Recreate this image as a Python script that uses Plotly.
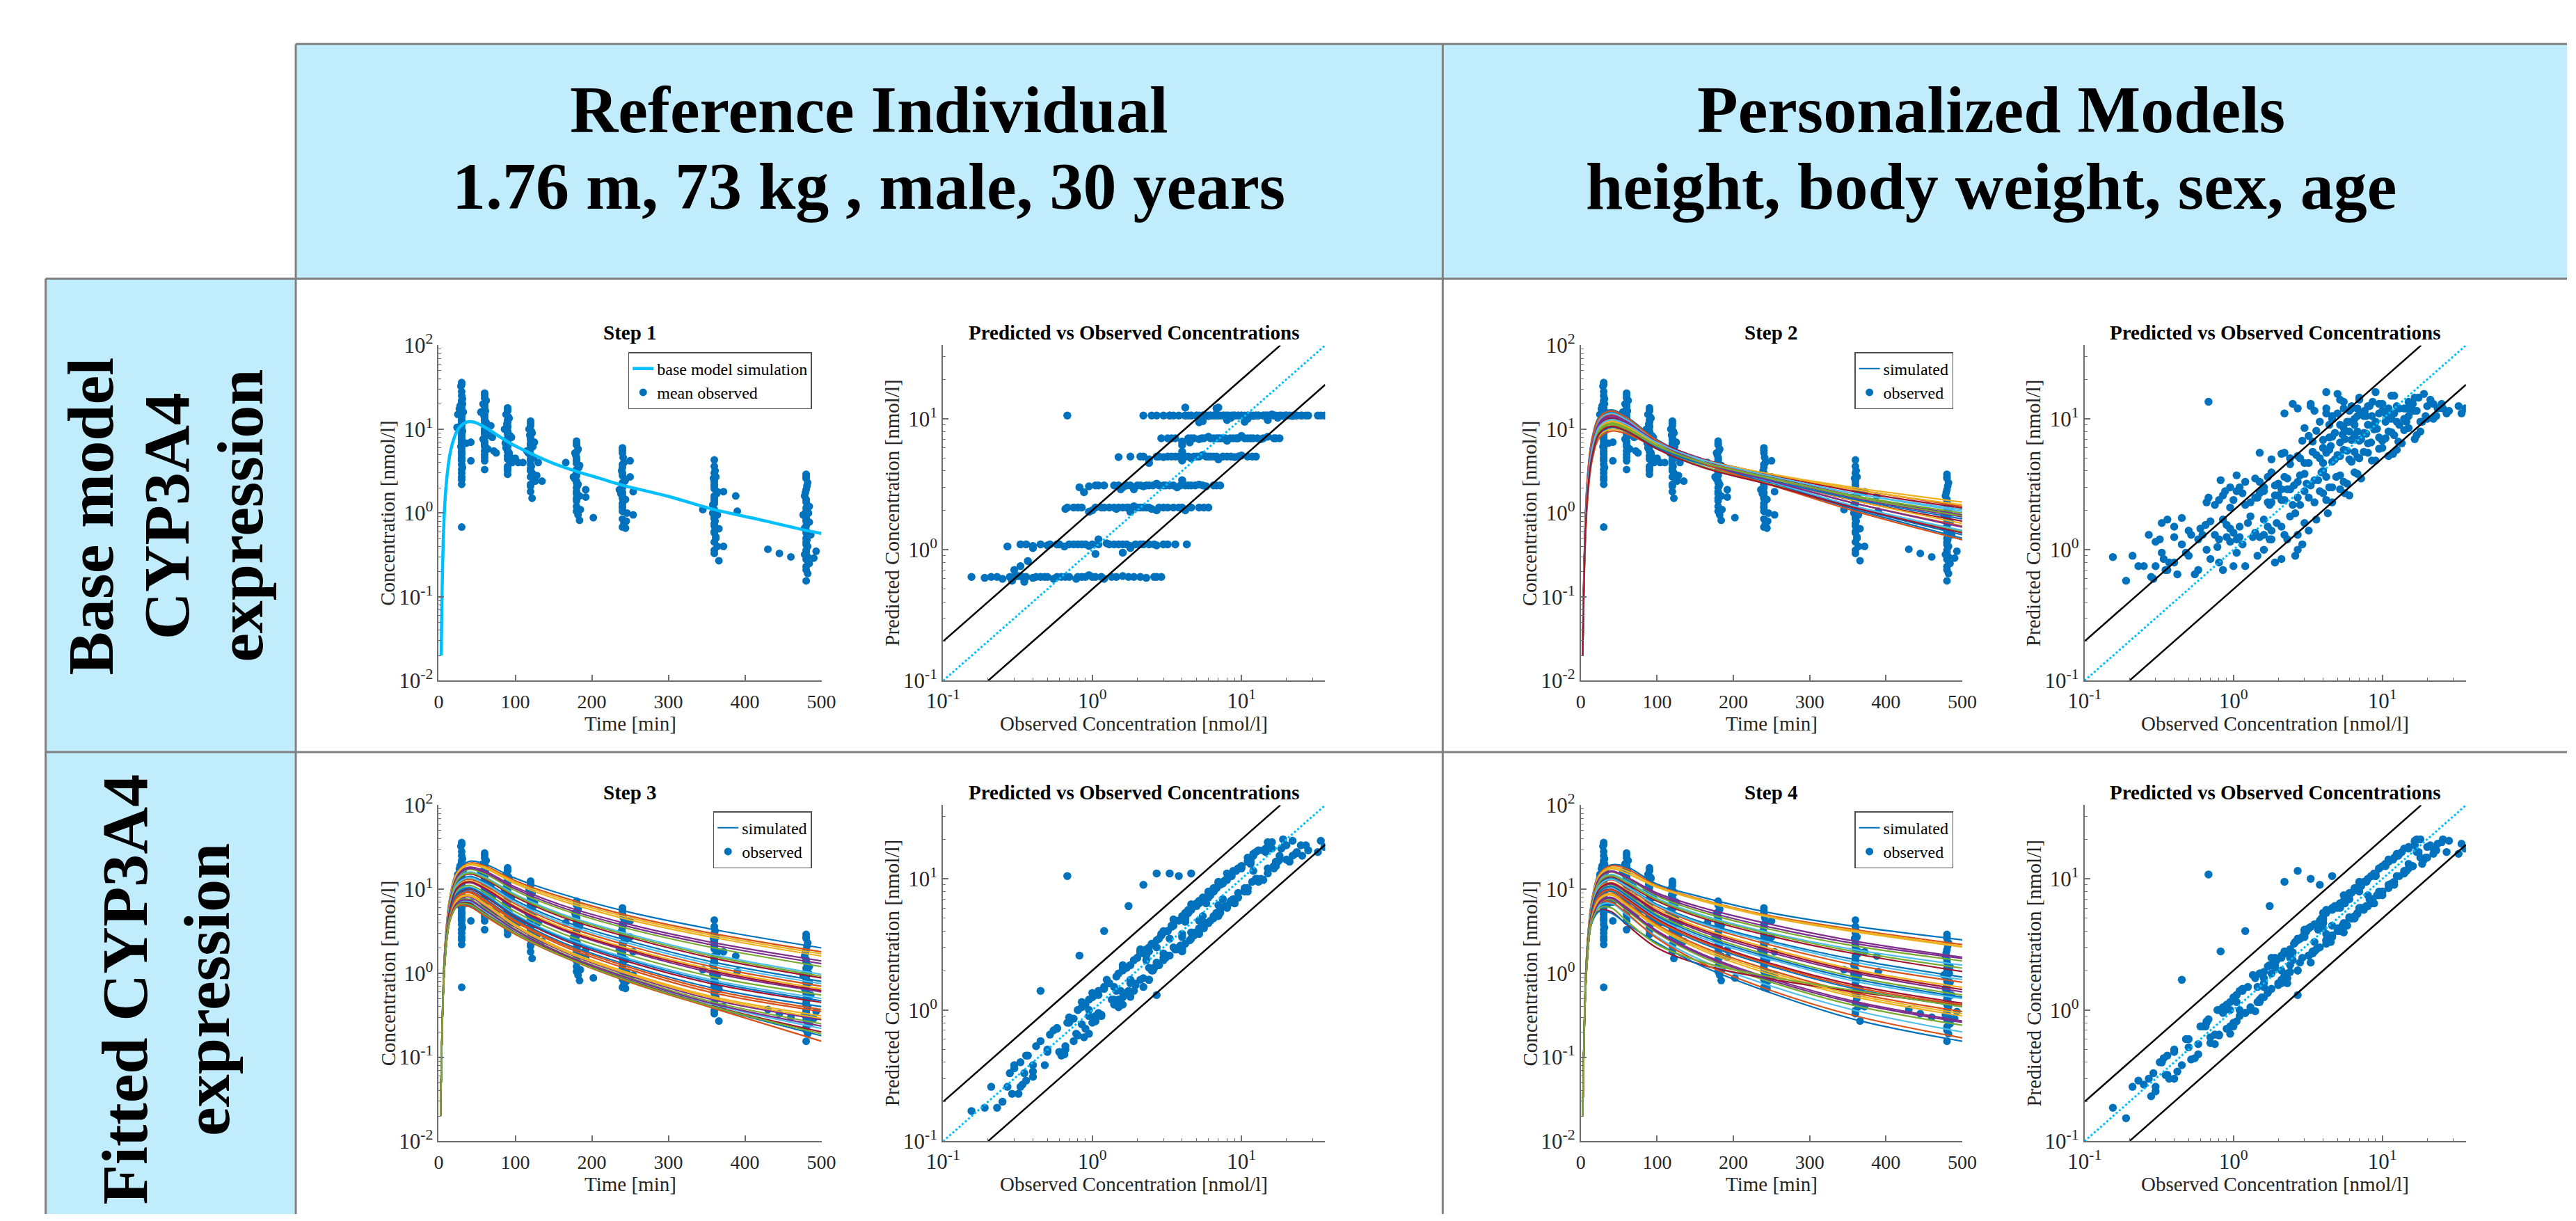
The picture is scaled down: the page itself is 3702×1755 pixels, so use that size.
import math
import plotly.graph_objects as go

W, H = 3702, 1755
SERIF = "Liberation Serif"

# ======================= DATA =======================
header_left = ["Reference Individual", "1.76 m, 73 kg , male, 30 years"]
header_right = ["Personalized Models", "height, body weight, sex, age"]
row1_label = ["Base model", "CYP3A4", "expression"]
row2_label = ["Fitted CYP3A4", "expression"]
step_titles = ["Step 1", "Step 2", "Step 3", "Step 4"]

# ---- observed concentrations, batch A (grouped by nominal sampling time 30..480 min)
obs_time_a = [
    30, 30, 29, 30, 31, 30, 28, 30, 32, 30, 25, 27, 30, 30, 30, 30, 24, 30, 30, 30, 30, 30, 30, 30, 30, 30, 30, 30, 30, 30, 30, 30, 30, 30, 42, 42, 36,
    60, 60, 62, 58, 60, 60, 55, 60, 60, 60, 62, 60, 68, 60, 60, 65, 60, 70, 60, 60, 62, 60, 72, 60, 75, 60, 60,
    90, 90, 88, 92, 90, 90, 86, 90, 90, 95, 90, 90, 90, 88, 90, 92, 90, 90, 96, 90, 90, 90, 100, 104,
    120, 120, 118, 122, 120, 125, 120, 120, 115, 120, 124, 120, 130, 120, 110, 120, 122, 120, 126, 120, 135, 120, 122,
    180, 180, 182, 178, 180, 166, 180, 184, 180, 180, 176, 180, 182, 180, 180, 184, 180, 192, 192, 180, 180, 182, 184, 202,
    240, 240, 250, 242, 240, 240, 250, 244, 240, 240, 236, 240, 254, 240, 244, 240, 240, 246, 254, 240, 242, 240, 244,
    360, 360, 362, 360, 360, 364, 372, 360, 360, 358, 345, 360, 388, 390, 364, 360, 360, 366, 360, 362, 360, 364, 372, 360, 366,
    480, 480, 482, 480, 478, 480, 484, 480, 476, 480, 484, 480, 480, 486, 480, 480, 482, 480, 478, 480, 484, 480, 482, 480, 430, 445, 460, 490, 493,
]
obs_conc_a = [
    36, 34, 32.5, 25, 23, 21, 19, 18, 16, 15, 15, 17.5, 14, 13, 12, 11, 10.5, 10, 9, 8.2, 7.5, 7, 6.5, 6, 5.5, 5, 4.6, 4.2, 3.8, 3.3, 3, 2.7, 2.2, 0.68, 7, 4.2, 6.8,
    27, 25.5, 22, 20, 18.5, 17, 16, 15, 14, 13, 12, 11, 11, 10, 9, 8.5, 8, 8, 7.2, 6.5, 6, 5.5, 5.5, 5, 5.2, 4.6, 3.3,
    18, 16.5, 15, 13.5, 12, 11, 10, 9.5, 8.8, 8, 7.5, 7, 6.5, 6, 5.6, 5.2, 4.8, 4.4, 4, 3.6, 3.2, 2.9, 4.5, 4,
    12.5, 11, 10, 9, 8, 7, 6.5, 6, 5.5, 5, 4.6, 4.2, 4, 3.8, 4, 3.4, 3, 2.7, 2.4, 2.1, 2.4, 1.8, 1.5,
    7.2, 6.5, 5.8, 5.2, 4.6, 4.0, 4.2, 3.7, 3.3, 3.0, 2.7, 2.4, 2.2, 2.0, 1.8, 1.6, 1.4, 1.9, 1.55, 1.2, 1.05, 0.95, 0.82, 0.88,
    6.0, 5.2, 4.2, 4.0, 3.5, 3.0, 2.7, 2.5, 2.3, 2.1, 1.9, 1.75, 1.8, 1.6, 1.45, 1.3, 1.15, 1.0, 0.95, 0.85, 0.75, 0.68, 0.66,
    4.3, 3.0, 2.7, 2.4, 2.1, 1.8, 1.8, 1.6, 1.4, 1.25, 1.1, 1.1, 1.6, 1.05, 0.95, 0.85, 0.75, 0.65, 0.58, 0.5, 0.45, 0.4, 0.4, 0.33, 0.27,
    2.9, 2.6, 2.3, 1.9, 1.6, 1.35, 1.2, 1.05, 0.95, 0.85, 0.78, 0.7, 0.62, 0.55, 0.5, 0.45, 0.4, 0.36, 0.32, 0.28, 0.25, 0.21, 0.19, 0.155, 0.37, 0.33, 0.3, 0.29, 0.35,
]
pred1_a = [
    10.6, 10.6, 10.6, 10.6, 10.6, 10.6, 10.5, 10.6, 10.7, 10.6, 9.8, 10.2, 10.6, 10.6, 10.6, 10.6, 9.5, 10.6, 10.6, 10.6, 10.6, 10.6, 10.6, 10.6, 10.6, 10.6, 10.6, 10.6, 10.6, 10.6, 10.6, 10.6, 10.6, 10.6, 12.2, 12.2, 12.0,
    10.6, 10.6, 10.5, 10.6, 10.6, 10.6, 10.8, 10.6, 10.6, 10.6, 10.5, 10.6, 10.0, 10.6, 10.6, 10.2, 10.6, 9.8, 10.6, 10.6, 10.5, 10.6, 9.6, 10.6, 9.4, 10.6, 10.6,
    7.1, 7.1, 7.3, 7.0, 7.1, 7.1, 7.4, 7.1, 7.1, 6.8, 7.1, 7.1, 7.1, 7.3, 7.1, 7.0, 7.1, 7.1, 6.7, 7.1, 7.1, 7.1, 6.6, 6.3,
    5.15, 5.15, 5.25, 5.1, 5.15, 4.9, 5.15, 5.15, 5.3, 5.15, 5.0, 5.15, 4.8, 5.15, 5.6, 5.15, 5.1, 5.15, 4.9, 5.15, 4.6, 5.15, 5.1,
    3.1, 3.1, 3.05, 3.15, 3.1, 3.4, 3.1, 3.0, 3.1, 3.1, 3.2, 3.1, 3.05, 3.1, 3.1, 3.0, 3.1, 2.9, 2.9, 3.1, 3.1, 3.05, 3.0, 2.75,
    2.1, 2.1, 2.0, 2.1, 2.1, 2.1, 2.0, 2.05, 2.1, 2.1, 2.15, 2.1, 1.95, 2.1, 2.05, 2.1, 2.1, 2.0, 1.95, 2.1, 2.1, 2.1, 2.05,
    1.1, 1.1, 1.08, 1.1, 1.1, 1.07, 1.03, 1.1, 1.1, 1.12, 1.2, 1.1, 0.95, 0.93, 1.07, 1.1, 1.1, 1.06, 1.1, 1.08, 1.1, 1.07, 1.03, 1.1, 1.06,
    0.62, 0.62, 0.61, 0.62, 0.63, 0.62, 0.6, 0.62, 0.64, 0.62, 0.6, 0.62, 0.62, 0.6, 0.62, 0.62, 0.61, 0.62, 0.63, 0.62, 0.6, 0.62, 0.61, 0.62, 0.82, 0.75, 0.7, 0.58, 0.57,
]
pred2_a = [
    12.0, 11.0, 12.5, 13.0, 10.5, 14.0, 15.5, 9.5, 11.5, 13.5, 12.0, 14.5, 10.0, 12.0, 15.0, 11.0, 9.5, 13.0, 16.0, 12.5, 10.5, 14.0, 9.0, 11.5, 13.5, 15.5, 10.0, 12.0, 9.5, 13.0, 8.5, 12.0, 11.0, 13.5, 14.5, 16.0, 12.0,
    11.0, 12.0, 10.0, 12.5, 9.5, 11.5, 13.0, 10.5, 12.0, 9.0, 11.0, 10.0, 12.0, 11.5, 9.5, 10.5, 12.5, 9.0, 11.0, 10.0, 9.5, 12.0, 8.5, 11.0, 9.0, 10.5, 12.5,
    8.0, 7.0, 8.5, 6.5, 7.5, 8.0, 6.8, 7.2, 8.3, 6.5, 7.8, 6.8, 7.5, 8.0, 7.0, 6.6, 7.8, 7.2, 6.9, 8.1, 7.4, 6.8, 6.2, 6.0,
    5.8, 5.2, 6.0, 4.8, 5.5, 5.0, 5.6, 4.9, 5.8, 5.3, 4.7, 5.5, 4.6, 5.0, 6.0, 5.6, 4.6, 5.2, 5.0, 5.4, 4.5, 4.9, 5.5,
    3.5, 3.9, 3.2, 3.7, 3.0, 4.0, 3.6, 3.4, 3.1, 3.8, 3.3, 2.9, 3.6, 3.2, 3.9, 3.0, 3.5, 3.1, 2.8, 3.3, 3.7, 3.0, 3.4, 2.8,
    2.6, 2.9, 2.4, 2.7, 2.3, 2.8, 2.5, 2.2, 2.9, 2.4, 2.6, 2.2, 2.3, 2.8, 2.5, 2.3, 2.7, 2.4, 2.1, 2.6, 2.2, 2.5, 2.3,
    1.9, 1.6, 1.3, 1.8, 1.5, 1.2, 1.4, 1.7, 1.35, 1.6, 1.5, 1.25, 1.3, 1.2, 1.45, 1.7, 1.3, 1.55, 1.2, 1.4, 1.75, 1.25, 1.5, 1.6, 1.3,
    1.1, 0.9, 1.2, 0.8, 1.0, 1.25, 0.75, 0.95, 1.15, 0.7, 1.05, 0.85, 1.3, 0.65, 0.9, 1.1, 0.8, 0.7, 1.2, 0.62, 0.75, 0.9, 0.58, 0.88, 0.8, 0.95, 0.75, 0.6, 0.7,
]
pred3_a = [
    17.5, 19.5, 16.0, 18.0, 15.5, 13.5, 20.0, 14.0, 17.0, 12.0, 19.0, 13.5, 9.8, 16.5, 11.5, 14.5, 8.0, 12.5, 6.8, 10.5, 7.0, 9.2, 5.0, 8.0, 5.2, 6.5, 11.0, 5.5, 10.5, 11.0, 3.9, 11.0, 9.0, 10.5, 9.5, 3.2, 8.5,
    18.0, 15.0, 19.5, 14.0, 17.0, 12.5, 19.0, 11.0, 16.5, 9.5, 15.0, 8.0, 13.5, 12.0, 7.0, 10.5, 6.2, 9.8, 5.5, 8.0, 4.6, 7.2, 4.3, 6.2, 4.0, 5.8, 2.6,
    15.0, 12.5, 17.0, 10.0, 15.5, 8.5, 12.5, 7.2, 11.5, 6.0, 9.5, 5.2, 8.5, 7.2, 4.2, 6.8, 3.7, 5.5, 3.0, 4.8, 2.6, 3.7, 3.4, 5.2,
    16.0, 8.5, 12.5, 6.5, 11.0, 6.3, 8.0, 4.6, 6.8, 6.5, 3.9, 5.0, 2.8, 4.8, 3.8, 4.4, 2.5, 3.4, 1.7, 2.8, 2.1, 2.2, 1.05,
    9.0, 5.2, 6.5, 3.8, 6.4, 3.6, 5.0, 2.9, 3.5, 4.0, 2.3, 2.8, 1.5, 2.5, 1.7, 2.1, 1.2, 2.4, 1.4, 4.0, 0.9, 1.2, 2.6, 0.62,
    7.8, 4.2, 4.7, 2.9, 4.9, 2.7, 1.3, 2.0, 2.4, 2.8, 1.6, 6.2, 1.26, 2.0, 1.4, 1.6, 0.9, 1.35, 0.66, 1.05, 0.58, 0.8, 0.5,
    5.6, 2.4, 3.0, 1.7, 2.9, 1.6, 2.2, 1.25, 1.5, 1.7, 0.95, 1.3, 1.1, 1.3, 0.9, 0.78, 0.86, 0.46, 0.73, 0.5, 0.58, 0.38, 0.34, 0.4, 0.26,
    3.8, 2.1, 2.6, 1.4, 2.2, 1.2, 1.45, 0.82, 1.0, 1.15, 0.66, 0.8, 0.45, 0.7, 0.48, 1.4, 0.31, 0.45, 0.23, 0.33, 0.2, 0.26, 0.18, 0.17, 0.45, 0.26, 0.36, 0.23, 0.33,
]
pred4_a = [
    17.0, 18.5, 15.5, 19.0, 16.5, 18.0, 14.0, 20.0, 12.5, 17.5, 13.0, 16.0, 17.0, 10.5, 14.5, 9.0, 13.0, 8.0, 11.0, 7.0, 9.5, 6.0, 8.5, 5.0, 7.5, 4.2, 10.5, 5.8, 9.0, 10.0, 4.0, 11.5, 9.5, 10.8, 8.0, 5.5, 5.5,
    16.0, 20.0, 15.5, 17.5, 13.0, 20.0, 12.5, 17.0, 11.0, 15.5, 9.0, 13.5, 8.5, 12.5, 10.5, 6.5, 10.0, 6.2, 8.8, 5.0, 7.5, 4.4, 6.8, 4.0, 6.5, 3.6, 4.3,
    14.5, 19.5, 12.0, 16.0, 9.5, 14.0, 8.0, 12.0, 6.5, 10.0, 5.8, 9.0, 5.0, 7.8, 6.5, 4.0, 6.2, 3.5, 5.0, 2.9, 4.2, 3.6, 3.3, 4.6,
    10.5, 14.0, 7.5, 10.5, 7.5, 9.5, 5.2, 7.0, 3.9, 6.0, 6.0, 3.8, 4.9, 3.0, 4.2, 2.7, 3.8, 2.0, 2.9, 1.6, 2.5, 2.2, 1.15,
    6.0, 8.2, 4.4, 6.0, 4.4, 5.5, 3.4, 4.1, 2.3, 3.6, 3.5, 2.2, 2.7, 1.55, 1.9, 1.6, 1.8, 2.1, 1.25, 4.0, 1.3, 0.75, 2.8, 1.0,
    5.1, 6.5, 3.2, 4.6, 3.3, 4.1, 1.3, 2.75, 1.6, 2.5, 2.5, 6.2, 2.2, 1.25, 1.5, 1.0, 1.4, 0.75, 1.15, 0.95, 0.65, 0.85, 0.8,
    3.7, 3.8, 2.0, 2.8, 2.0, 2.5, 1.45, 1.75, 0.98, 1.5, 1.4, 1.0, 1.95, 0.82, 1.0, 1.05, 0.55, 0.75, 0.55, 0.6, 0.38, 0.48, 0.3, 0.4, 0.3,
    2.5, 3.3, 1.75, 2.2, 1.5, 1.85, 0.95, 1.15, 0.66, 1.0, 1.0, 0.62, 0.75, 0.43, 0.52, 1.7, 0.5, 0.32, 0.4, 0.22, 0.27, 0.26, 0.15, 0.18, 0.3, 0.4, 0.26, 0.33, 0.32,
]

# ---- observed concentrations, batch B (more samples at the same nominal times)
obs_time_b = [
    30, 30, 31, 30, 29, 30, 30, 31, 30, 30, 29, 30, 30, 31, 30,
    60, 60, 61, 59, 60, 60, 63, 60, 60, 58, 60, 60, 64, 60,
    90, 91, 90, 89, 90, 90, 93, 90, 90, 87, 90, 90, 94, 90,
    120, 121, 119, 120, 120, 123, 120, 117, 120, 120, 121, 120, 128, 120,
    180, 181, 179, 180, 180, 183, 180, 180, 178, 180, 181, 180, 180, 185,
    240, 241, 240, 239, 240, 243, 240, 240, 238, 240, 241, 240, 240, 245,
    360, 361, 359, 360, 360, 363, 360, 360, 358, 360, 361, 360, 360, 362, 360,
    480, 481, 479, 480, 480, 483, 480, 480, 478, 480, 481, 480, 480, 482, 480,
]
obs_conc_b = [
    28, 22, 20, 16.5, 14.5, 12.5, 11.5, 9.5, 8.6, 7.8, 6.2, 5.2, 4.4, 3.5, 2.5,
    23.5, 19.5, 16.5, 14.5, 12.5, 11.5, 10.5, 9.5, 8.8, 7.6, 6.8, 6.2, 5.8, 4.2,
    17, 14, 12.8, 11.5, 10.5, 9.2, 8.4, 7.8, 7.2, 6.8, 6.2, 5.4, 4.6, 3.4,
    11.8, 9.5, 8.5, 7.5, 6.8, 6.2, 5.8, 5.2, 4.8, 4.4, 3.6, 3.2, 2.8, 2.2,
    6.8, 5.5, 4.9, 4.4, 3.9, 3.5, 3.1, 2.8, 2.55, 2.3, 2.1, 1.7, 1.5, 1.1,
    5.6, 4.6, 3.8, 3.2, 2.8, 2.4, 2.2, 2.0, 1.7, 1.5, 1.4, 1.2, 1.05, 0.8,
    3.6, 3.2, 2.6, 2.2, 1.95, 1.7, 1.5, 1.3, 1.0, 0.9, 0.8, 0.7, 0.6, 0.52, 0.36,
    2.7, 2.1, 1.75, 1.45, 1.15, 1.0, 0.9, 0.8, 0.66, 0.58, 0.48, 0.42, 0.34, 0.3, 0.23,
]
pred1_b = [10.6] * 15 + [10.6] * 14 + [7.1] * 14 + [5.15] * 14 + [3.1] * 14 + [2.1] * 14 + [1.1] * 15 + [0.62] * 15
pred2_b = [
    11.5, 13.0, 10.0, 14.5, 12.0, 9.5, 15.0, 11.0, 13.5, 10.5, 12.5, 14.0, 9.0, 11.5, 13.0,
    12.0, 10.5, 11.5, 9.5, 12.5, 10.0, 11.0, 13.0, 9.0, 11.5, 10.5, 12.0, 9.5, 11.0,
    7.5, 8.2, 6.7, 7.9, 7.1, 8.4, 6.6, 7.7, 7.0, 8.0, 6.9, 7.6, 7.3, 6.7,
    5.4, 5.9, 4.8, 5.6, 5.1, 4.7, 5.7, 5.2, 4.9, 5.8, 5.3, 4.6, 5.0, 5.5,
    3.8, 3.3, 3.6, 3.0, 3.9, 3.4, 3.2, 3.7, 3.1, 3.5, 2.9, 3.6, 3.3, 3.0,
    2.7, 2.3, 2.8, 2.5, 2.2, 2.9, 2.4, 2.6, 2.3, 2.7, 2.5, 2.2, 2.8, 2.4,
    1.7, 1.4, 1.9, 1.3, 1.6, 1.5, 1.25, 1.8, 1.35, 1.55, 1.2, 1.65, 1.45, 1.3, 1.7,
    1.0, 0.85, 1.2, 0.9, 1.1, 0.75, 1.25, 0.8, 1.0, 0.7, 0.95, 0.65, 0.85, 1.15, 0.75,
]
pred3_b = [
    16.5, 15.0, 18.0, 12.0, 16.0, 10.0, 13.5, 7.8, 10.5, 6.2, 7.5, 4.8, 5.8, 3.0, 3.2,
    16.0, 18.0, 12.5, 17.0, 10.0, 14.0, 8.5, 12.0, 7.0, 9.5, 5.5, 7.8, 4.6, 5.3,
    13.5, 16.5, 10.0, 13.0, 8.2, 11.5, 6.6, 9.8, 5.8, 8.5, 4.8, 6.8, 3.5, 4.3,
    9.5, 12.0, 6.8, 9.2, 5.4, 7.8, 4.6, 6.5, 3.8, 5.5, 2.9, 4.0, 2.2, 2.8,
    5.5, 7.0, 3.9, 5.5, 3.1, 4.4, 2.5, 3.5, 2.0, 2.9, 1.7, 2.1, 1.2, 1.4,
    4.5, 5.8, 3.0, 4.0, 2.2, 3.0, 1.75, 2.5, 1.35, 1.9, 1.1, 1.5, 0.85, 1.0,
    2.9, 4.0, 2.1, 2.75, 1.55, 2.1, 1.2, 1.6, 0.8, 1.1, 0.64, 0.88, 0.48, 0.65, 0.29,
    2.2, 2.7, 1.4, 1.8, 0.92, 1.25, 0.72, 1.0, 0.53, 0.72, 0.38, 0.53, 0.27, 0.38, 0.18,
]
pred4_b = [
    19.5, 17.0, 14.5, 18.0, 11.5, 15.0, 9.0, 12.0, 7.0, 9.5, 5.0, 6.5, 3.6, 4.5, 2.4,
    18.5, 14.5, 19.0, 11.5, 15.5, 9.0, 13.0, 7.5, 11.0, 6.0, 8.5, 5.0, 7.2, 3.4,
    16.0, 11.5, 15.0, 9.2, 12.5, 7.5, 10.5, 6.2, 9.0, 5.4, 7.8, 4.4, 5.8, 2.8,
    14.0, 8.0, 10.5, 6.0, 8.5, 5.0, 7.2, 4.2, 6.0, 3.5, 4.5, 2.6, 3.5, 1.8,
    8.5, 4.6, 6.2, 3.5, 5.0, 2.8, 4.0, 2.3, 3.2, 1.9, 2.6, 1.4, 1.9, 0.9,
    7.0, 3.7, 4.8, 2.6, 3.5, 1.95, 2.8, 1.6, 2.15, 1.2, 1.75, 0.95, 1.3, 0.65,
    4.5, 2.6, 3.3, 1.8, 2.4, 1.35, 1.9, 1.05, 1.25, 0.72, 1.0, 0.56, 0.75, 0.42, 0.45,
    3.4, 1.7, 2.2, 1.15, 1.45, 0.8, 1.1, 0.64, 0.82, 0.46, 0.6, 0.34, 0.43, 0.24, 0.29,
]

obs_time = obs_time_a + obs_time_b
obs_conc = obs_conc_a + obs_conc_b
pred_step1 = pred1_a + pred1_b
pred_step2 = pred2_a + pred2_b
pred_step3 = pred3_a + pred3_b
pred_step4 = pred4_a + pred4_b

# Step 1: single base-model simulation
sim1_time = [3.3, 4, 5, 6, 7, 8, 10, 12, 15, 20, 25, 30, 35, 40, 45, 50, 60, 70, 80, 90, 100,
             120, 150, 180, 210, 240, 300, 360, 420, 480, 500]
sim1_conc = [0.02, 0.07, 0.22, 0.5, 0.85, 1.3, 2.3, 3.4, 5.2, 7.8, 9.9, 11.2, 12.0, 12.3, 12.2, 11.8, 10.6,
             9.3, 8.1, 7.1, 6.3, 5.15, 3.9, 3.14, 2.6, 2.15, 1.58, 1.1, 0.83, 0.62, 0.57]

# Steps 2-4: individual simulations, concentration at these times
curve_time = [2.5, 8, 15, 25, 40, 60, 100, 160, 250, 360, 500]
step2_curves = [
    [0.02, 2.2, 8.0, 14.5, 17.0, 14.0, 7.5, 4.0, 2.2, 1.1, 0.5],
    [0.02, 1.9, 7.0, 12.8, 15.0, 12.5, 7.0, 4.0, 2.4, 1.3, 0.7],
    [0.03, 1.2, 4.6, 8.5, 10.0, 9.3, 6.3, 4.2, 2.9, 2.0, 1.35],
    [0.02, 1.6, 6.0, 11.0, 13.0, 11.3, 6.8, 4.2, 2.6, 1.5, 0.9],
    [0.02, 1.4, 5.3, 9.8, 11.5, 10.0, 6.0, 3.6, 2.2, 1.2, 0.6],
    [0.02, 1.5, 5.5, 10.2, 12.0, 10.5, 6.5, 4.1, 2.7, 1.7, 1.1],
    [0.04, 1.8, 6.5, 12.0, 14.0, 12.0, 7.0, 4.2, 2.5, 1.4, 0.8],
    [0.02, 2.0, 7.5, 13.6, 16.0, 13.3, 7.2, 4.0, 2.3, 1.15, 0.55],
    [0.02, 1.1, 4.3, 8.0, 9.5, 8.8, 6.0, 4.0, 2.8, 1.9, 1.2],
    [0.03, 1.55, 5.8, 10.6, 12.5, 10.8, 6.6, 4.0, 2.5, 1.4, 0.75],
    [0.02, 1.85, 6.8, 12.3, 14.5, 12.4, 7.3, 4.4, 2.7, 1.6, 0.95],
    [0.02, 1.35, 5.0, 9.3, 11.0, 9.8, 6.3, 4.0, 2.6, 1.6, 1.0],
    [0.02, 1.95, 7.2, 13.2, 15.5, 13.0, 7.2, 4.1, 2.35, 1.2, 0.62],
    [0.03, 1.7, 6.2, 11.4, 13.5, 11.8, 7.1, 4.4, 2.85, 1.8, 1.15],
    [0.02, 1.3, 4.8, 8.9, 10.5, 9.4, 6.0, 3.8, 2.45, 1.45, 0.85],
    [0.02, 2.1, 7.7, 14.0, 16.5, 13.7, 7.3, 3.9, 2.15, 1.05, 0.48],
    [0.02, 1.5, 5.5, 10.2, 12.0, 10.6, 6.7, 4.3, 2.9, 1.9, 1.25],
    [0.02, 1.75, 6.5, 11.9, 14.0, 11.9, 6.9, 4.0, 2.4, 1.3, 0.68],
    [0.03, 1.45, 5.4, 10.0, 11.8, 10.3, 6.4, 4.0, 2.6, 1.55, 0.92],
    [0.02, 1.6, 6.0, 11.0, 13.0, 11.4, 6.9, 4.3, 2.75, 1.7, 1.05],
    [0.02, 1.35, 4.9, 9.1, 10.8, 9.5, 5.8, 3.5, 2.15, 1.15, 0.58],
]
step3_curves = [
    [0.02, 2.0, 8.5, 17.0, 21.5, 20.0, 13.5, 8.8, 5.3, 3.3, 2.0],
    [0.02, 1.95, 8.2, 16.3, 20.5, 19.0, 12.6, 8.1, 4.8, 2.95, 1.8],
    [0.02, 1.9, 8.0, 15.6, 19.5, 17.8, 11.6, 7.3, 4.3, 2.65, 1.6],
    [0.02, 1.85, 7.7, 14.9, 18.3, 16.5, 10.6, 6.5, 3.8, 2.3, 1.4],
    [0.02, 1.8, 7.4, 14.2, 17.2, 15.3, 9.6, 5.8, 3.35, 2.0, 1.2],
    [0.02, 1.75, 7.1, 13.4, 16.0, 14.0, 8.7, 5.1, 2.9, 1.65, 0.97],
    [0.02, 1.7, 6.9, 12.8, 15.2, 13.2, 8.1, 4.7, 2.65, 1.5, 0.88],
    [0.02, 1.65, 6.6, 12.1, 14.2, 12.2, 7.4, 4.25, 2.4, 1.35, 0.8],
    [0.02, 1.6, 6.3, 11.4, 13.2, 11.2, 6.7, 3.8, 2.1, 1.18, 0.7],
    [0.02, 1.58, 6.1, 10.9, 12.6, 10.6, 6.3, 3.55, 1.95, 1.1, 0.65],
    [0.02, 1.55, 5.9, 10.4, 12.0, 10.0, 5.9, 3.3, 1.8, 1.0, 0.6],
    [0.02, 1.5, 5.6, 9.7, 11.1, 9.2, 5.4, 3.0, 1.63, 0.9, 0.55],
    [0.02, 1.48, 5.4, 9.3, 10.6, 8.7, 5.0, 2.75, 1.48, 0.82, 0.5],
    [0.02, 1.45, 5.2, 8.9, 10.1, 8.2, 4.7, 2.55, 1.35, 0.74, 0.45],
    [0.02, 1.42, 5.1, 8.5, 9.6, 7.7, 4.4, 2.35, 1.23, 0.66, 0.4],
    [0.02, 1.4, 4.9, 8.1, 9.1, 7.2, 4.1, 2.15, 1.1, 0.58, 0.35],
    [0.02, 1.38, 4.8, 7.7, 8.6, 6.8, 3.8, 1.98, 1.0, 0.52, 0.31],
    [0.02, 1.36, 4.7, 7.4, 8.1, 6.3, 3.55, 1.85, 0.93, 0.48, 0.28],
    [0.02, 1.34, 4.6, 7.1, 7.6, 5.9, 3.35, 1.75, 0.88, 0.45, 0.25],
    [0.02, 1.32, 4.5, 6.9, 7.2, 5.5, 3.2, 1.7, 0.84, 0.42, 0.22],
    [0.02, 1.31, 4.4, 6.6, 6.8, 5.2, 3.05, 1.65, 0.81, 0.4, 0.2],
    [0.02, 1.3, 4.35, 6.4, 6.4, 5.0, 2.95, 1.62, 0.79, 0.39, 0.18],
    [0.02, 1.3, 4.3, 6.3, 6.2, 4.8, 2.9, 1.6, 0.78, 0.38, 0.155],
    [0.02, 1.92, 8.1, 16.0, 20.0, 18.4, 12.1, 7.7, 4.55, 2.8, 1.7],
    [0.02, 1.82, 7.5, 14.5, 17.7, 15.9, 10.1, 6.1, 3.55, 2.15, 1.3],
    [0.02, 1.72, 7.0, 13.1, 15.6, 13.6, 8.4, 4.9, 2.78, 1.58, 0.92],
    [0.02, 1.62, 6.45, 11.7, 13.7, 11.7, 7.0, 4.0, 2.25, 1.26, 0.75],
    [0.02, 1.56, 6.0, 10.6, 12.3, 10.3, 6.1, 3.4, 1.87, 1.05, 0.62],
    [0.02, 1.46, 5.3, 9.1, 10.4, 8.5, 4.85, 2.65, 1.42, 0.78, 0.47],
    [0.02, 1.41, 5.0, 8.3, 9.35, 7.45, 4.25, 2.25, 1.17, 0.62, 0.37],
    [0.02, 1.37, 4.75, 7.55, 8.35, 6.55, 3.65, 1.9, 0.96, 0.5, 0.29],
    [0.02, 1.33, 4.55, 7.0, 7.4, 5.7, 3.27, 1.72, 0.86, 0.43, 0.235],
    [0.02, 1.31, 4.38, 6.5, 6.6, 5.1, 3.0, 1.63, 0.8, 0.395, 0.19],
]
step4_curves = [
    [0.02, 1.9, 8.0, 16.0, 19.5, 18.5, 11.5, 8.0, 5.2, 3.6, 2.5],
    [0.02, 1.9, 7.8, 15.5, 19.0, 17.5, 11.0, 7.5, 4.8, 3.3, 2.2],
    [0.02, 1.8, 7.5, 14.5, 17.5, 15.5, 10.5, 7.2, 4.6, 3.1, 2.05],
    [0.02, 1.8, 7.2, 14.0, 16.5, 14.0, 9.0, 6.0, 3.8, 2.4, 1.55],
    [0.02, 1.75, 7.0, 13.5, 16.0, 13.5, 8.3, 5.3, 3.3, 2.1, 1.4],
    [0.02, 1.7, 6.8, 12.8, 15.0, 12.5, 7.8, 4.9, 3.0, 1.9, 1.25],
    [0.02, 1.7, 6.6, 12.2, 14.0, 11.5, 7.2, 4.5, 2.75, 1.7, 1.05],
    [0.02, 1.65, 6.4, 11.6, 13.5, 11.0, 6.6, 4.0, 2.4, 1.45, 0.9],
    [0.02, 1.6, 6.2, 11.0, 13.0, 10.5, 6.2, 3.7, 2.15, 1.25, 0.78],
    [0.02, 1.6, 6.0, 10.5, 12.0, 9.8, 5.8, 3.4, 1.95, 1.1, 0.68],
    [0.02, 1.55, 5.8, 10.0, 11.5, 9.2, 5.3, 3.1, 1.75, 1.0, 0.6],
    [0.02, 1.5, 5.6, 9.6, 11.0, 8.7, 5.0, 2.9, 1.6, 0.9, 0.55],
    [0.02, 1.5, 5.4, 9.2, 10.5, 8.2, 4.6, 2.6, 1.45, 0.8, 0.5],
    [0.02, 1.45, 5.2, 8.8, 10.0, 7.8, 4.4, 2.45, 1.3, 0.72, 0.44],
    [0.02, 1.4, 5.0, 8.4, 9.5, 7.3, 4.1, 2.25, 1.2, 0.65, 0.4],
    [0.02, 1.4, 4.9, 8.0, 9.0, 6.9, 3.8, 2.05, 1.08, 0.58, 0.35],
    [0.02, 1.35, 4.7, 7.6, 8.5, 6.4, 3.5, 1.85, 0.96, 0.52, 0.31],
    [0.02, 1.35, 4.6, 7.2, 8.0, 6.0, 3.2, 1.68, 0.86, 0.46, 0.27],
    [0.02, 1.3, 4.5, 6.8, 7.5, 5.6, 3.0, 1.55, 0.78, 0.41, 0.24],
    [0.02, 1.3, 4.4, 6.4, 6.8, 5.0, 2.7, 1.4, 0.7, 0.36, 0.2],
    [0.02, 1.25, 4.2, 5.6, 5.4, 3.8, 2.0, 1.25, 0.85, 0.6, 0.42],
    [0.02, 1.25, 4.1, 5.5, 5.2, 3.9, 2.3, 1.2, 0.58, 0.28, 0.155],
    [0.02, 1.3, 4.5, 7.0, 7.0, 5.2, 2.6, 1.3, 0.62, 0.31, 0.17],
    [0.02, 1.85, 7.6, 15.0, 18.2, 16.5, 10.8, 7.4, 4.7, 3.2, 2.1],
    [0.02, 1.78, 7.1, 13.8, 16.2, 13.8, 8.6, 5.6, 3.5, 2.25, 1.5],
    [0.02, 1.72, 6.7, 12.5, 14.5, 12.0, 7.5, 4.7, 2.9, 1.8, 1.15],
    [0.02, 1.62, 6.3, 11.3, 13.2, 10.8, 6.4, 3.85, 2.3, 1.35, 0.84],
    [0.02, 1.58, 5.9, 10.2, 11.8, 9.5, 5.5, 3.25, 1.85, 1.05, 0.64],
    [0.02, 1.5, 5.5, 9.4, 10.8, 8.4, 4.8, 2.75, 1.52, 0.85, 0.52],
    [0.02, 1.42, 5.1, 8.6, 9.8, 7.5, 4.25, 2.35, 1.25, 0.68, 0.42],
    [0.02, 1.37, 4.8, 7.8, 8.8, 6.6, 3.65, 1.95, 1.02, 0.55, 0.33],
    [0.02, 1.32, 4.5, 7.0, 7.8, 5.8, 3.1, 1.62, 0.82, 0.44, 0.26],
    [0.02, 1.28, 4.3, 6.0, 6.0, 4.2, 2.2, 1.35, 0.9, 0.62, 0.4],
]

pvo_limits = [0.1, 36.4]   # axis limits of the predicted-vs-observed panels
fold = 2.0                 # 2-fold error lines

matlab_colors = ["#0072BD", "#D95319", "#EDB120", "#7E2F8E", "#77AC30", "#4DBEEE", "#A2142F"]
OBS_BLUE = "#0072BD"
CYAN = "#00BFFF"
HEADER_BG = "#C1ECFC"
GRID_LINE = "#808080"
AX_COL = "#6E6E6E"
TXT = "#262626"


# ======================= LAYOUT HELPERS =======================
def px(x):
    return x / W


def py(y):
    return 1 - y / H


panels = [  # n, kind, x0, x1, y0, y1 (pixels)
    (1, "time", 605, 1162, 478, 971),
    (2, "pvo", 1339, 1895, 478, 971),
    (3, "time", 2267, 2822, 478, 971),
    (4, "pvo", 3000, 3555, 478, 971),
    (5, "time", 605, 1162, 1154, 1648),
    (6, "pvo", 1339, 1895, 1154, 1648),
    (7, "time", 2267, 2822, 1154, 1648),
    (8, "pvo", 3000, 3555, 1154, 1648),
]


def sup(e):
    return "10<sup>%d</sup>" % e


time_minor = [k * 10 ** e for e in (-2, -1, 0, 1) for k in range(2, 10)]
pvo_minor = [k * 10 ** e for e in (-1, 0, 1) for k in range(2, 10) if k * 10 ** e <= pvo_limits[1]]

fig = go.Figure()
layout = dict(
    width=W, height=H, margin=dict(l=0, r=0, t=0, b=0),
    paper_bgcolor="white", plot_bgcolor="rgba(0,0,0,0)",
    font=dict(family=SERIF, color=TXT),
    showlegend=True,
)

common = dict(showline=True, linecolor=AX_COL, linewidth=2, ticks="inside", ticklen=8,
              tickwidth=1.5, tickcolor=AX_COL, showgrid=False, zeroline=False, mirror=False,
              fixedrange=True)
lin_font = dict(family=SERIF, size=28, color=TXT)
log_font = dict(family=SERIF, size=31, color=TXT)
minor_spec = dict(ticks="inside", ticklen=4, tickwidth=1, tickcolor=AX_COL)

annotations = []
for n, kind, x0, x1, y0, y1 in panels:
    sfx = "" if n == 1 else str(n)
    xa = dict(common, domain=[px(x0), px(x1)], anchor="y" + sfx)
    ya = dict(common, domain=[py(y1), py(y0)], anchor="x" + sfx, type="log", tickfont=log_font)
    if kind == "time":
        xa.update(range=[0, 500], tickvals=[0, 100, 200, 300, 400, 500], ticklabelstandoff=4,
                  ticktext=["0", "100", "200", "300", "400", "500"], tickfont=lin_font)
        ya.update(range=[-2, 2], tickvals=[0.01, 0.1, 1, 10, 100],
                  ticktext=[sup(e) for e in (-2, -1, 0, 1, 2)],
                  minor=dict(minor_spec, tickvals=time_minor))
    else:
        lr = [math.log10(pvo_limits[0]), math.log10(pvo_limits[1])]
        xa.update(type="log", range=lr, tickvals=[0.1, 1, 10], ticktext=[sup(e) for e in (-1, 0, 1)],
                  tickfont=log_font, ticklabelstandoff=0, minor=dict(minor_spec, tickvals=pvo_minor))
        ya.update(range=lr, tickvals=[0.1, 1, 10], ticktext=[sup(e) for e in (-1, 0, 1)],
                  minor=dict(minor_spec, tickvals=pvo_minor))
    layout["xaxis" + sfx] = xa
    layout["yaxis" + sfx] = ya

    if kind == "time":
        title = step_titles[[1, 3, 5, 7].index(n)]
        xt, yt = "Time [min]", "Concentration [nmol/l]"
    else:
        title = "Predicted vs Observed Concentrations"
        xt, yt = "Observed Concentration [nmol/l]", "Predicted Concentration [nmol/l]"
    annotations.append(dict(text="<b>%s</b>" % title, x=px((x0 + x1) / 2), y=py(y0 - 19),
                            xref="paper", yref="paper", showarrow=False, xanchor="center", yanchor="middle",
                            font=dict(family=SERIF, size=29, color="black")))
    annotations.append(dict(text=xt, x=px((x0 + x1) / 2), y=py(y1 + 63), xref="paper", yref="paper",
                            showarrow=False, xanchor="center", yanchor="middle",
                            font=dict(family=SERIF, size=29, color=TXT)))
    annotations.append(dict(text=yt, x=px(x0 - 74), y=py((y0 + y1) / 2), xref="paper", yref="paper",
                            showarrow=False, xanchor="center", yanchor="middle", textangle=-90,
                            font=dict(family=SERIF, size=29, color=TXT)))

# ======================= TRACES =======================
legend_of = {1: "legend", 3: "legend2", 5: "legend3", 7: "legend4"}
curves_of = {3: step2_curves, 5: step3_curves, 7: step4_curves}
pred_of = {2: pred_step1, 4: pred_step2, 6: pred_step3, 8: pred_step4}

for n, kind, x0, x1, y0, y1 in panels:
    sfx = "" if n == 1 else str(n)
    ax = dict(xaxis="x" + sfx, yaxis="y" + sfx)
    if kind == "time":
        lg = legend_of[n]
        fig.add_trace(go.Scatter(x=obs_time, y=obs_conc, mode="markers",
                                 marker=dict(color=OBS_BLUE, size=11, line=dict(width=0)),
                                 name="mean observed" if n == 1 else "observed",
                                 legend=lg, legendrank=2, showlegend=True, **ax))
        if n == 1:
            fig.add_trace(go.Scatter(x=sim1_time, y=sim1_conc, mode="lines", line=dict(color=CYAN, width=4.5),
                                     line_shape="spline", name="base model simulation",
                                     legend=lg, legendrank=1, showlegend=True, **ax))
        else:
            for i, c in enumerate(curves_of[n]):
                fig.add_trace(go.Scatter(x=curve_time, y=c, mode="lines",
                                         line=dict(color=matlab_colors[i % 7], width=2.2),
                                         line_shape="spline", name="simulated", legend=lg, legendrank=1,
                                         showlegend=(i == 0), **ax))
    else:
        fig.add_trace(go.Scatter(x=obs_conc, y=pred_of[n], mode="markers",
                                 marker=dict(color=OBS_BLUE, size=11.5, line=dict(width=0)),
                                 showlegend=False, **ax))
        lo, hi = pvo_limits
        fig.add_trace(go.Scatter(x=[lo, hi / fold], y=[lo * fold, hi], mode="lines",
                                 line=dict(color="black", width=2.5), showlegend=False, **ax))
        fig.add_trace(go.Scatter(x=[lo * fold, hi], y=[lo, hi / fold], mode="lines",
                                 line=dict(color="black", width=2.5), showlegend=False, **ax))
        fig.add_trace(go.Scatter(x=[lo, hi], y=[lo, hi], mode="lines",
                                 line=dict(color=CYAN, width=3, dash="dot"), showlegend=False, **ax))

legend_pos = {"legend": (1148, 488), "legend2": (2809, 488), "legend3": (1148, 1163), "legend4": (2809, 1163)}
for key, (xr, yt) in legend_pos.items():
    layout[key] = dict(x=px(xr), y=py(yt), xanchor="right", yanchor="top", bgcolor="white",
                       bordercolor="#505050", borderwidth=1.5, tracegroupgap=0,
                       font=dict(family=SERIF, size=24, color="black"))

# ======================= TABLE FRAME =======================
shapes = [
    dict(type="rect", xref="paper", yref="paper", x0=px(397), x1=px(3702), y0=py(380), y1=py(35),
         fillcolor=HEADER_BG, line=dict(width=0), layer="below"),
    dict(type="rect", xref="paper", yref="paper", x0=px(33), x1=px(397), y0=py(1755), y1=py(380),
         fillcolor=HEADER_BG, line=dict(width=0), layer="below"),
]
frame_lines = [
    (397, 35, 3702, 35), (33, 380, 3702, 380), (33, 1076, 3702, 1076),
    (397, 35, 397, 1755), (2066, 35, 2066, 1755), (33, 380, 33, 1755),
]
for xa_, ya_, xb_, yb_ in frame_lines:
    shapes.append(dict(type="line", xref="paper", yref="paper", x0=px(xa_), y0=py(ya_), x1=px(xb_), y1=py(yb_),
                       line=dict(color=GRID_LINE, width=3), layer="below"))
layout["shapes"] = shapes

# header texts
for (cx, lines) in ((1231, header_left), (2864, header_right)):
    for ly, txt in zip((131, 244), lines):
        annotations.append(dict(text="<b>%s</b>" % txt, x=px(cx), y=py(ly), xref="paper", yref="paper",
                                showarrow=False, xanchor="center", yanchor="middle",
                                font=dict(family=SERIF, size=96, color="black")))
# row labels (rotated, one annotation per line)
for (cy, lines, xs) in ((729, row1_label, (98, 208, 316)), (1425, row2_label, (148, 268))):
    for lx, txt in zip(xs, lines):
        annotations.append(dict(text="<b>%s</b>" % txt, x=px(lx), y=py(cy), xref="paper", yref="paper",
                                showarrow=False, xanchor="center", yanchor="middle", textangle=-90,
                                font=dict(family=SERIF, size=94, color="black")))

layout["annotations"] = annotations
fig.update_layout(**layout)
fig.write_html("out.html")
